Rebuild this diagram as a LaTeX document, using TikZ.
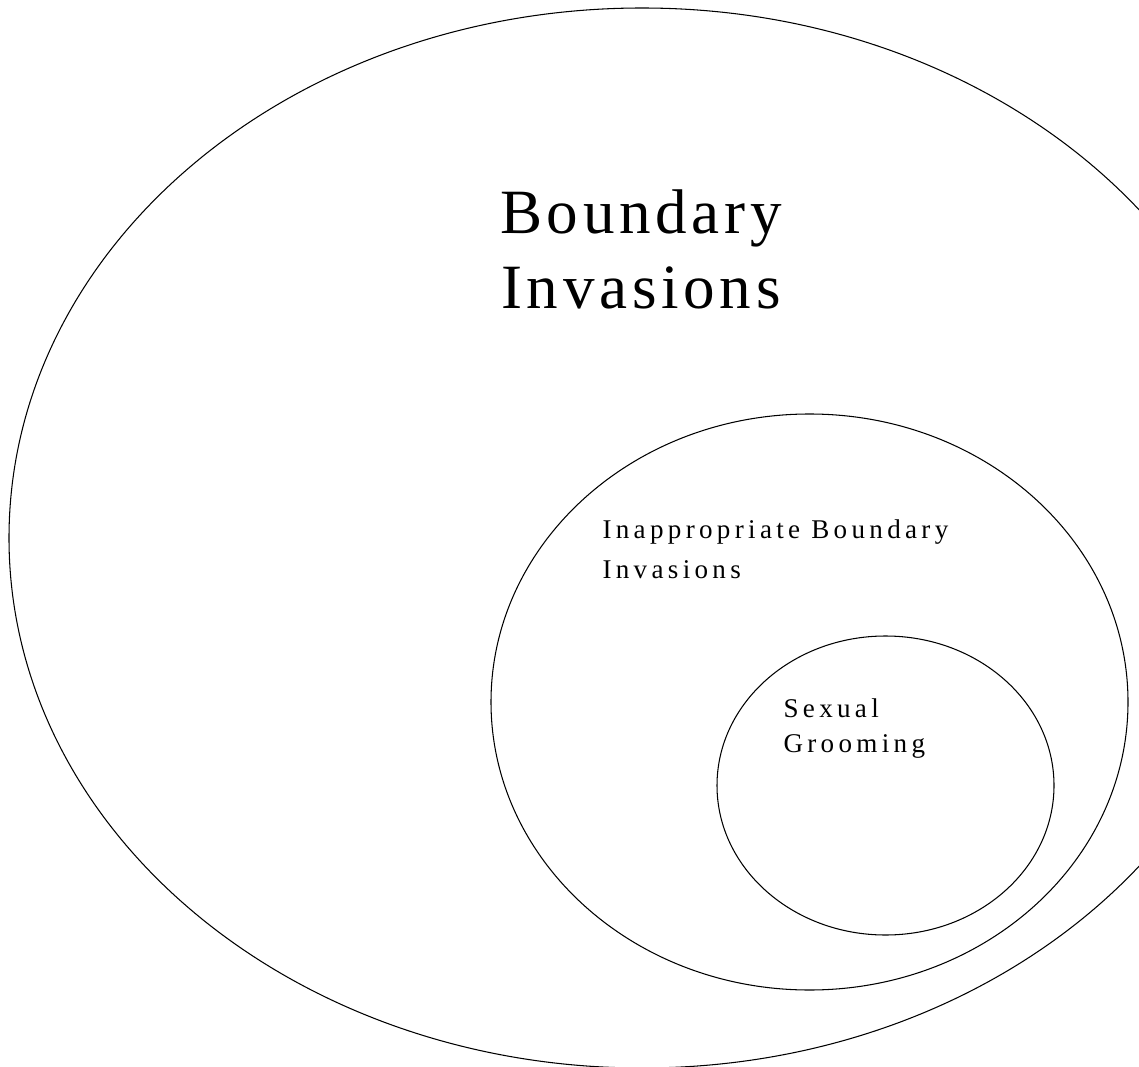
\documentclass[tikz,border=0pt]{standalone}
\usepackage{fontspec}
\newfontfamily\bigserif{Liberation Serif}[LetterSpace=7.5]
\newfontfamily\smallserif{Liberation Serif}[LetterSpace=16]
\begin{document}
\begin{tikzpicture}[x=0.02cm, y=-0.02cm, line width=0.6pt,
		bigtext/.style={inner sep=0pt, align=center, font=\bigserif\fontsize{35.9}{42.7}\selectfont},
		smalltext/.style={inner sep=0pt, align=left, font=\smallserif\fontsize{15.4}{22.8}\selectfont}]
	\useasboundingbox (0,0) rectangle (1139,1067);
	\clip (0,0) rectangle (1139,1067);
	\coordinate (O) at (642,538); \coordinate (M) at (809.5,702);
	\coordinate (S) at (885.5,785.5);
	\draw (O) ellipse [x radius=633, y radius=530];
	\draw (M) ellipse [x radius=318.5, y radius=288];
	\draw (S) ellipse [x radius=168.5, y radius=149.5];
	\node[bigtext, anchor=north] (outer) at (641,189) {Boundary\\Invasions};
	\node[smalltext, anchor=north west] (middle) at (602,519) {Inappropriate Boundary\\Invasions};
	\node[smalltext, anchor=north west, font=\smallserif\fontsize{15.4}{19.9}\selectfont] (inner) at (783,698) {Sexual\\Grooming};
\end{tikzpicture}
\end{document}
